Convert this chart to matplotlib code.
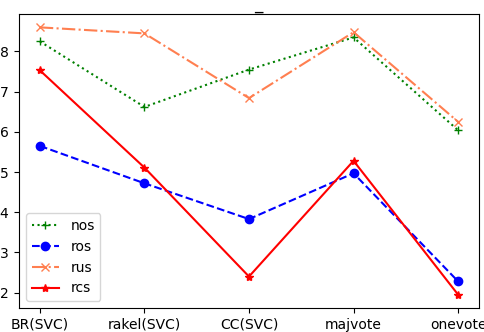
import numpy as np
import matplotlib
matplotlib.use('Agg')
import matplotlib.pyplot as plt

## classifiers on the x axis
classifiers = ['BR(SVC)', 'rakel(SVC)', 'CC(SVC)', 'majvote', 'onevote']

## scores per sampling method
nos = [0.6825, 0.6662, 0.6755, 0.6835, 0.6604]
ros = [0.6565, 0.6472, 0.6383, 0.6497, 0.6228]
rus = [0.6860, 0.6845, 0.6684, 0.6848, 0.6625]
rcs = [0.6753, 0.6511, 0.6240, 0.6528, 0.6195]

fig = plt.figure(figsize=(4.84, 3.32), dpi=100)
ax = fig.add_axes([19/484, 24/332, 460/484, 294/332])

x = np.arange(len(classifiers))
ax.plot(x, nos, linestyle=':', marker='+', color='green', label='nos')
ax.plot(x, ros, linestyle='--', marker='o', color='blue', label='ros')
ax.plot(x, rus, linestyle='-.', marker='x', color='coral', label='rus')
ax.plot(x, rcs, linestyle='-', marker='*', color='red', label='rcs')

ax.set_xticks(x)
ax.set_xticklabels(classifiers)
ax.set_title('_', x=0.52, pad=4)
ax.legend(loc='lower left')

fig.savefig('out.png', dpi=100)
